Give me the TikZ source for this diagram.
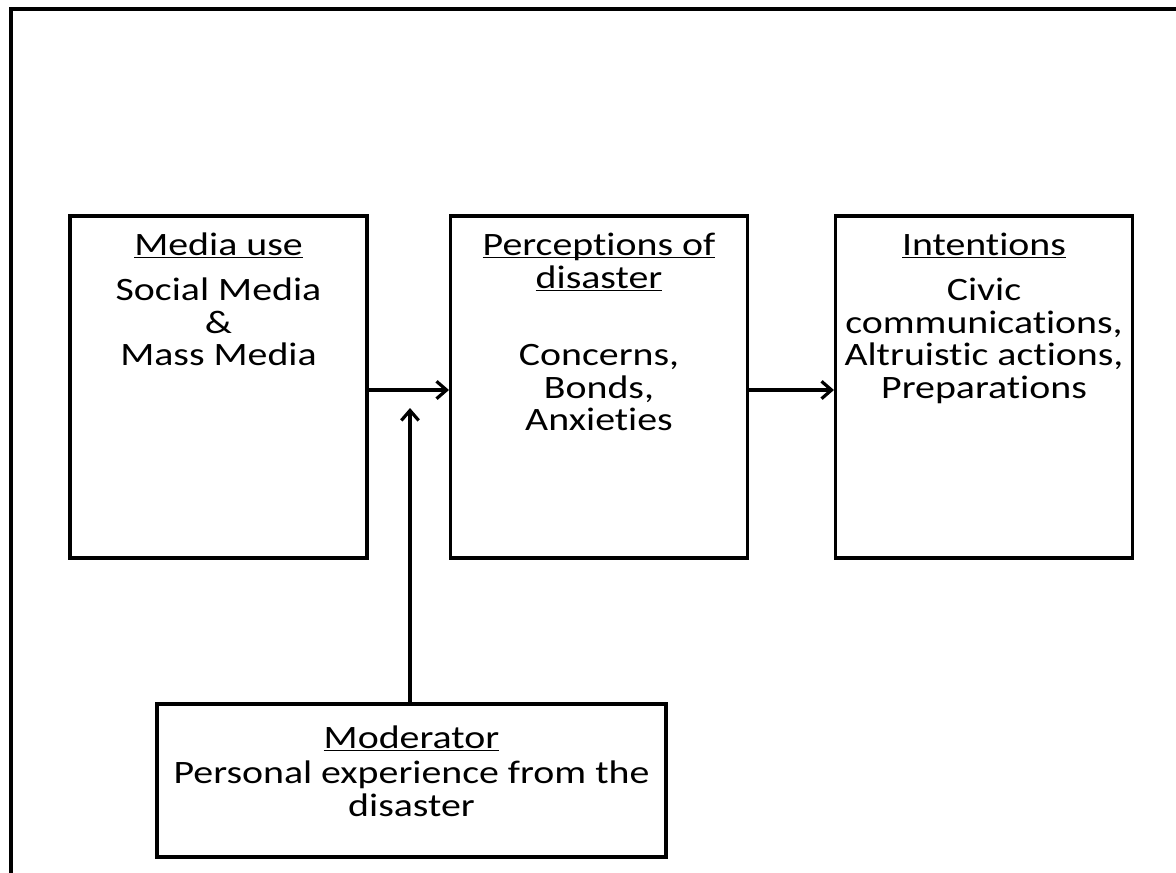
\documentclass[tikz,border=0pt]{standalone}
\usepackage{fontspec}
\setmainfont{Carlito}[FakeStretch=1.22, Ligatures={NoCommon}]
\usetikzlibrary{arrows.meta}
% underlined heading that ignores descenders
\newcommand{\hdr}[1]{\underline{\smash{#1}}}
\begin{document}
\begin{tikzpicture}[x=0.75pt,y=-0.75pt,
  frame/.style={line width=2.3pt},
  stage/.style={draw, line width=2.3pt, inner sep=0pt,
    minimum width=222.75pt, minimum height=256.5pt},
  modbox/.style={draw, line width=2.3pt, inner sep=0pt,
    minimum width=381.75pt, minimum height=114.75pt},
  txt/.style={anchor=base, inner sep=0pt,
    font=\fontsize{24.5}{26}\selectfont},
  link/.style={line width=2.4pt, -{Straight Barb[length=7.5pt,width=13pt,line width=2.4pt]}}]
\useasboundingbox (0,0) rectangle (1176,872);

% outer frame (top and left edges)
\draw[frame] (11,1000) -- (11,9) -- (1200,9);

% stage boxes
\node[stage] (media) at (218.5,387) {};
\node[stage] (percep) at (599,387) {};
\node[stage] (intent) at (984,387) {};
\node[modbox] (moder) at (411.5,780.5) {};

% media use
\node[txt] (t1a) at (218.5,255) {\hdr{Media use}};
\node[txt] (t1b) at (218.5,300) {Social Media};
\node[txt] (t1c) at (218.5,333) {\&};
\node[txt] (t1d) at (218.5,365) {Mass Media};

% perceptions
\node[txt] (t2a) at (599,255) {\hdr{Perceptions of}};
\node[txt] (t2b) at (599,288) {\hdr{disaster}};
\node[txt] (t2c) at (599,365) {Concerns,};
\node[txt] (t2d) at (599,398) {Bonds,};
\node[txt] (t2e) at (599,430) {Anxieties};

% intentions
\node[txt] (t3a) at (984,255) {\hdr{Intentions}};
\node[txt] (t3b) at (984,300) {Civic};
\node[txt] (t3c) at (984,333) {communications,};
\node[txt] (t3d) at (984,365) {Altruistic actions,};
\node[txt] (t3e) at (984,398) {Preparations};

% moderator
\node[txt] (t4a) at (411.5,748) {\hdr{Moderator}};
\node[txt] (t4b) at (411.5,783) {Personal experience from the};
\node[txt] (t4c) at (411.5,816) {disaster};

% connectors
\draw[link] ([yshift=-2.25pt]media.east) -- ([yshift=-2.25pt]percep.west);
\draw[link] ([yshift=-2.25pt]percep.east) -- ([yshift=-2.25pt]intent.west);
\coordinate (modtip) at (410,408);
\draw[link] (moder.north -| modtip) -- (modtip);
\end{tikzpicture}
\end{document}
